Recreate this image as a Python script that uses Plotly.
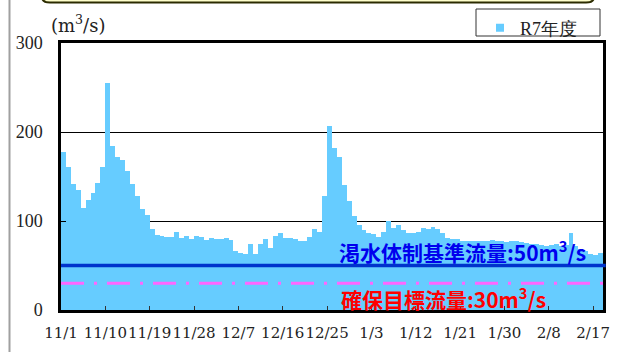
import pandas as pd
import plotly.graph_objects as go

# Daily mean discharge (m3/s), R7 season starting 1 Nov 2025
START = "2025-11-01"
flow = [
    178, 161, 142, 135, 115, 124, 132, 143, 161, 255,
    184, 172, 168, 156, 142, 128, 114, 107, 91, 84,
    83, 82, 82, 88, 81, 83, 80, 83, 82, 79,
    81, 80, 80, 81, 79, 66, 64, 63, 74, 63,
    74, 80, 70, 83, 86, 81, 81, 80, 78, 77,
    82, 91, 88, 128, 207, 182, 172, 140, 123, 106,
    95, 90, 86, 85, 82, 88, 100, 92, 95, 90,
    86, 87, 88, 92, 91, 93, 91, 86, 81, 80,
    80, 78, 77, 78, 77, 77, 78, 79, 78, 77,
    76, 77, 78, 76, 75, 74, 74, 73, 72, 73,
    74, 72, 73, 87, 72, 68, 66, 63, 62, 64,
]
tick_labels = ["11/1", "11/10", "11/19", "11/28", "12/7", "12/16", "12/25",
               "1/3", "1/12", "1/21", "1/30", "2/8", "2/17"]
y_ticks = [0, 100, 200, 300]
series_name = "R7年度"

BASE_FLOW = 50     # drought-control reference flow
TARGET_FLOW = 30   # secured target flow

dates = pd.date_range(START, periods=len(flow), freq="D")
tick_dates = pd.date_range(START, periods=len(tick_labels), freq="9D")
x_end = pd.Timestamp(START) + pd.Timedelta(days=110)

W, H = 625, 352
L, R, T, B = 61, 22, 43, 42
PW, PH = W - L - R, H - T - B


def px(x):
    return (x - L) / PW


def py(y):
    return (H - B - y) / PH


BAR_COLOR = "#66CCFF"
SERIF = "Liberation Serif"
SERIF_WIDE = "DejaVu Serif"
CJK_BOLD = "Noto Sans CJK JP"

fig = go.Figure()
fig.add_trace(go.Bar(
    x=dates, y=flow,
    xperiod=86400000, xperiodalignment="middle",
    marker=dict(color=BAR_COLOR, line=dict(width=0)),
    name=series_name, showlegend=False,
))
# legend entry with a small square swatch
fig.add_trace(go.Scatter(
    x=[None], y=[None], mode="markers", name=series_name,
    marker=dict(symbol="square", size=8, color=BAR_COLOR),
))

shapes = [
    # outer page rule on the left
    dict(type="line", xref="paper", yref="paper",
         x0=px(9.5), x1=px(9.5), y0=py(-2), y1=py(354),
         line=dict(color="#A0A0A0", width=2)),
    # bottom edge of the title panel above
    dict(type="path", xref="paper", yref="paper",
         path=(f"M {px(42)},{py(-10)} L {px(42)},{py(-3)} "
               f"Q {px(42)},{py(2.5)} {px(50)},{py(2.5)} "
               f"L {px(586)},{py(2.5)} Q {px(594)},{py(2.5)} {px(594)},{py(-3)} "
               f"L {px(594)},{py(-10)} Z"),
         fillcolor="#FFFFCC", line=dict(color="#2B2B00", width=2)),
    # legend frame
    dict(type="rect", xref="paper", yref="paper",
         x0=px(476), x1=px(600), y0=py(9), y1=py(36),
         fillcolor="white", line=dict(color="#333333", width=1), layer="below"),
    # reference flow lines
    dict(type="line", xref="paper", yref="y", x0=0, x1=1.0,
         y0=TARGET_FLOW, y1=TARGET_FLOW,
         line=dict(color="#FF66FF", width=3, dash="23px,10px,3px,10px")),
    dict(type="line", xref="paper", yref="y", x0=0, x1=1.005,
         y0=BASE_FLOW, y1=BASE_FLOW,
         line=dict(color="#0033CC", width=3.5)),
]

annotations = [
    dict(xref="paper", yref="paper", x=px(78), y=py(24),
         xanchor="center", yanchor="middle",
         text="(m<sup>3</sup>/s)", showarrow=False,
         font=dict(family=SERIF_WIDE, size=18, color="#222222")),
    dict(xref="paper", yref="paper", x=px(463), y=py(251),
         xanchor="center", yanchor="middle",
         text=f"渇水体制基準流量:{BASE_FLOW}m<sup>3</sup>/s", showarrow=False,
         font=dict(family=CJK_BOLD, size=21, color="#0000EE", weight="bold")),
    dict(xref="paper", yref="paper", x=px(443), y=py(298),
         xanchor="center", yanchor="middle",
         text=f"確保目標流量:{TARGET_FLOW}m<sup>3</sup>/s", showarrow=False,
         font=dict(family=CJK_BOLD, size=21, color="#FF0000", weight="bold")),
]

fig.update_layout(
    width=W, height=H,
    margin=dict(l=L, r=R, t=T, b=B, pad=0, autoexpand=False),
    paper_bgcolor="white", plot_bgcolor="white",
    bargap=0,
    shapes=shapes,
    annotations=annotations,
    legend=dict(x=px(480), y=py(9.5), xanchor="left", yanchor="top",
                bgcolor="rgba(0,0,0,0)", borderwidth=0,
                font=dict(family=SERIF, size=18, color="#222222"),
                itemwidth=30),
    xaxis=dict(
        type="date", range=[dates[0], x_end],
        tickvals=tick_dates, ticktext=tick_labels, tickangle=0,
        ticks="inside", ticklen=4, tickcolor="#333333", tickwidth=1,
        showgrid=False, zeroline=False,
        showline=True, mirror=True, linecolor="black", linewidth=2.5,
        tickfont=dict(family=SERIF_WIDE, size=15, color="#222222"),
        ticklabelstandoff=7,
    ),
    yaxis=dict(
        range=[0, 300], tickvals=y_ticks,
        ticks="inside", ticklen=5, tickcolor="black", tickwidth=1,
        showgrid=True, gridcolor="black", gridwidth=1, zeroline=False,
        showline=True, mirror=True, linecolor="black", linewidth=2.5,
        tickfont=dict(family=SERIF, size=18, color="#222222"),
        ticklabelstandoff=12,
    ),
)

fig.write_html("out.html")
